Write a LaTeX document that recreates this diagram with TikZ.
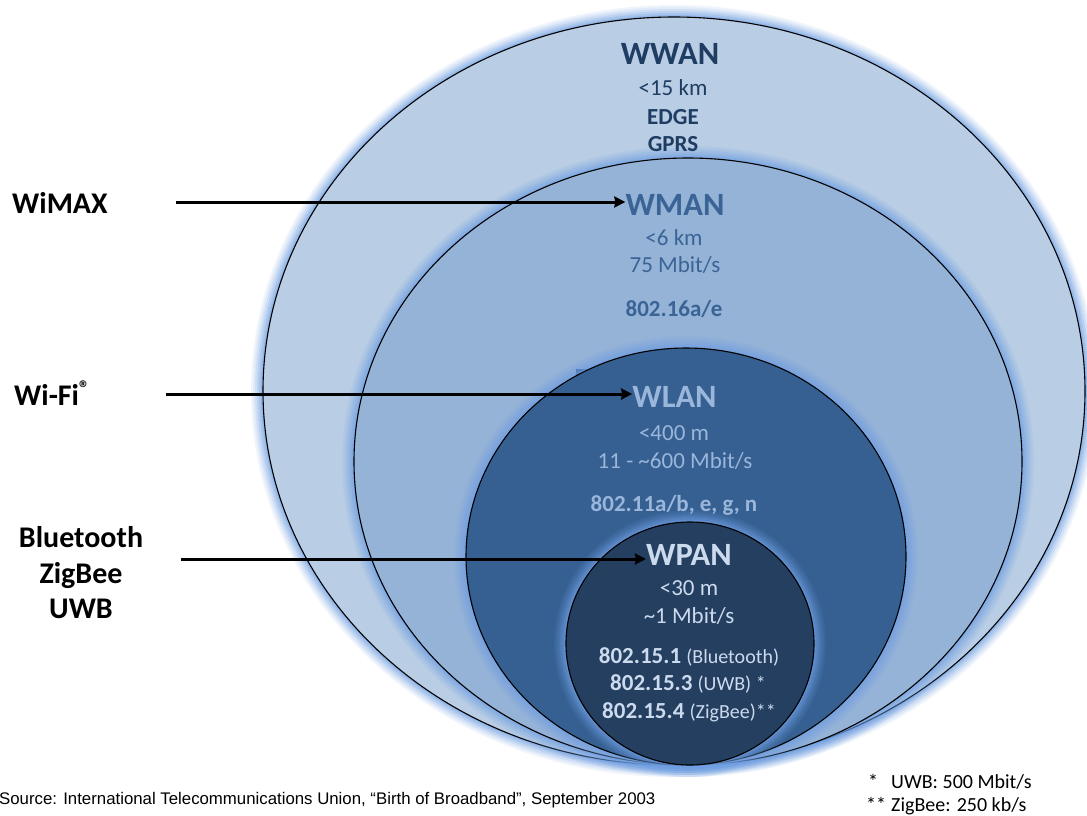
\documentclass[tikz,border=0pt]{standalone}
\usepackage{fontspec}
\setmainfont{Carlito}
\newfontfamily\sourcefont{Liberation Sans}
\usetikzlibrary{arrows.meta}
\definecolor{wwanfill}{HTML}{B9CDE5}
\definecolor{wmanfill}{HTML}{95B3D7}
\definecolor{wlanfill}{HTML}{366092}
\definecolor{wpanfill}{HTML}{243F60}
\definecolor{wwantext}{HTML}{1F3D63}
\definecolor{wmantext}{HTML}{3A6496}
\definecolor{wlantext}{HTML}{9AB6DA}
\definecolor{wpantext}{HTML}{CCDAEE}
\definecolor{glowblue}{HTML}{6F9FE2}
\tikzset{netname/.style = {font=\fontsize{32.5}{34}\selectfont\bfseries, anchor=base, inner sep=0pt}}
\tikzset{netinfo/.style = {font=\fontsize{23}{25}\selectfont, anchor=base, inner sep=0pt}}
\tikzset{netstd/.style = {font=\fontsize{23}{25}\selectfont\bfseries, anchor=base, inner sep=0pt}}
\tikzset{tech/.style = {font=\fontsize{30}{35}\selectfont\bfseries, anchor=base, inner sep=0pt}}
\tikzset{pointer/.style = {line width=3pt, -{Stealth[length=11pt,width=11pt,inset=1pt]}}}
\tikzset{rim/.style = {draw=black, line width=1.1pt}}
\newcommand{\glowellipse}[3]{\foreach \w/\o in {24/0.1,20/0.12,16/0.15,12/0.2,8/0.25,4/0.35}
  \draw[glowblue, line width=\w pt, opacity=\o] #1 ellipse [x radius=#2, y radius=#3];}

\begin{document}
\begin{tikzpicture}[x=1pt,y=-1pt]
	\useasboundingbox (0,0) rectangle (1087,815);
	\fill[white] (0,0) rectangle (1087,815);

	\glowellipse{(674,391)}{411pt}{374pt}
	\draw[rim, fill=wwanfill] (674,391) ellipse [x radius=411pt, y radius=374pt];
	\glowellipse{(688,461.5)}{334pt}{303.5pt}
	\draw[rim, fill=wmanfill] (688,461.5) ellipse [x radius=334pt, y radius=303.5pt];
	\fill[wlanfill] (576,369) rectangle (587,375);
	\glowellipse{(686,556.5)}{220pt}{208.5pt}
	\draw[rim, fill=wlanfill] (686,556.5) ellipse [x radius=220pt, y radius=208.5pt];
	\glowellipse{(690,643.5)}{124pt}{121.5pt}
	\draw[rim, fill=wpanfill] (690,643.5) ellipse [x radius=124pt, y radius=121.5pt];

	\node[netname, wwantext] (wwan) at (670,64) {WWAN};
	\node[netinfo, wwantext] (wwanrange) at (673,95) {<15 km};
	\node[netstd, wwantext] (edge) at (673,124) {EDGE};
	\node[netstd, wwantext] (gprs) at (673,151) {GPRS};

	\node[netname, wmantext] (wman) at (675,215) {WMAN};
	\node[netinfo, wmantext] (wmanrange) at (674,245) {<6 km};
	\node[netinfo, wmantext] (wmanrate) at (675,272) {75 Mbit/s};
	\node[netstd, wmantext] (wmanstd) at (674,316) {802.16a/e};

	\node[netname, wlantext] (wlan) at (674.5,407) {WLAN};
	\node[netinfo, wlantext] (wlanrange) at (674,440) {<400 m};
	\node[netinfo, wlantext] (wlanrate) at (675,468) {11 - \textasciitilde600 Mbit/s};
	\node[netstd, wlantext] (wlanstd) at (674,511) {802.11a/b, e, g, n};

	\node[netname, wpantext] (wpan) at (689,565) {WPAN};
	\node[netinfo, wpantext] (wpanrange) at (689,595) {<30 m};
	\node[netinfo, wpantext] (wpanrate) at (689,623) {\textasciitilde1 Mbit/s};
	\node[netinfo, wpantext] (bluetoothstd) at (689,663) {\textbf{802.15.1} {\fontsize{20}{22}\selectfont(Bluetooth)}};
	\node[netinfo, wpantext] (uwbstd) at (688,690) {\textbf{802.15.3} {\fontsize{20}{22}\selectfont(UWB) *}};
	\node[netinfo, wpantext] (zigbeestd) at (689,718) {\textbf{802.15.4} {\fontsize{20}{22}\selectfont(ZigBee)**}};

	\node[tech, anchor=base west] (wimax) at (12,213) {WiMAX};
	\node[tech, anchor=base west] (wifi) at (14,405) {Wi-Fi\textsuperscript{\textregistered}};
	\node[tech] (bluetooth) at (81,547) {Bluetooth};
	\node[tech] (zigbee) at (81,583) {ZigBee};
	\node[tech] (uwb) at (81,618) {UWB};

	\coordinate (wimaxtail) at (176,202);
	\coordinate (wifitail) at (166,394);
	\coordinate (pantail) at (181,559);
	\draw[pointer] (wimaxtail) -- (wimaxtail -| wman.west);
	\draw[pointer] (wifitail) -- (wifitail -| wlan.west);
	\draw[pointer] (pantail) -- (pantail -| wpan.west);

	\node[anchor=base west, inner sep=0pt, font=\sourcefont\fontsize{16.8}{18}\selectfont] (source) at (-1,804) {Source: International Telecommunications Union, “Birth of Broadband”, September 2003};
	\node[anchor=base west, inner sep=0pt, font=\fontsize{20}{24}\selectfont] (uwbnote) at (868,788) {\makebox[23pt][l]{*}UWB: 500 Mbit/s};
	\node[anchor=base west, inner sep=0pt, font=\fontsize{20}{24}\selectfont] (zigbeenote) at (866,811) {\makebox[25pt][l]{**}ZigBee: 250 kb/s};
\end{tikzpicture}
\end{document}
